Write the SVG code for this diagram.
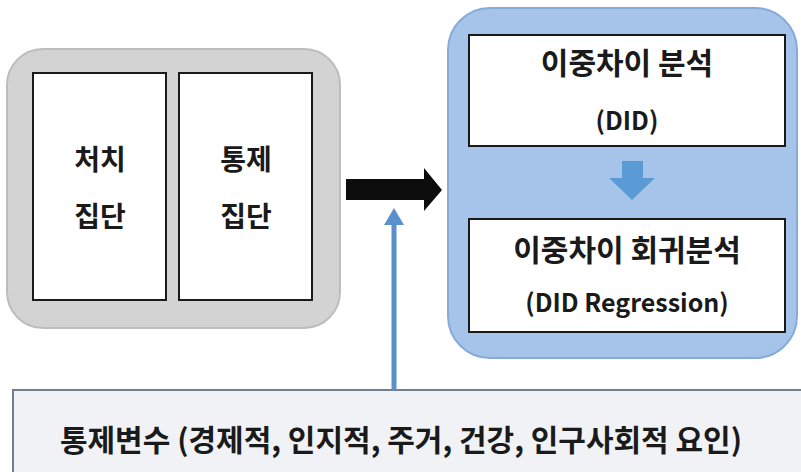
<svg xmlns="http://www.w3.org/2000/svg" width="801" height="472" viewBox="0 0 801 472">
<style>
.t{font-family:"Noto Sans CJK KR","Noto Sans",sans-serif;font-weight:bold;fill:#1a1a1a;text-anchor:middle}
.box{fill:#ffffff;stroke:#1a1a1a;stroke-width:2}
</style>
<rect width="801" height="472" fill="#ffffff"/>
<g id="group-container">
<rect x="7" y="49" width="333" height="279" rx="36" fill="#d3d3d3" stroke="#bdbdbd" stroke-width="2"/>
</g>
<g id="treatment">
<rect class="box" x="33" y="73" width="133" height="227"/>
<text class="t" x="100" y="170" font-size="28">처치</text>
<text class="t" x="100" y="227" font-size="28">집단</text>
</g>
<g id="control">
<rect class="box" x="179" y="73" width="133" height="227"/>
<text class="t" x="246" y="170" font-size="28">통제</text>
<text class="t" x="246" y="227" font-size="28">집단</text>
</g>
<g id="analysis-container">
<rect x="448" y="8" width="349" height="350" rx="42" fill="#a6c4e9" stroke="#86abd9" stroke-width="2"/>
</g>
<g id="did">
<rect class="box" x="469" y="35" width="316" height="111"/>
<text class="t" x="627" y="74" font-size="30">이중차이 분석</text>
<text class="t" x="627" y="130" font-size="25">(DID)</text>
</g>
<g id="did-regression">
<rect class="box" x="469" y="219" width="316" height="113"/>
<text class="t" x="627" y="261" font-size="30">이중차이 회귀분석</text>
<text class="t" x="627" y="312" font-size="25">(DID Regression)</text>
</g>
<g id="controls">
<rect x="13" y="390" width="800" height="90" fill="#f1f2f5" stroke="#6f7f8f" stroke-width="2"/>
<text class="t" x="401" y="451" font-size="30">통제변수 (경제적, 인지적, 주거, 건강, 인구사회적 요인)</text>
</g>
<g id="connectors">
<polygon points="346,179 424,179 424,168 442,190 424,211 424,200 346,200" fill="#0d0d0d"/>
<polygon points="622,161 643,161 643,178 655,178 632,200 609,178 622,178" fill="#5b9bd5"/>
<line x1="394" y1="222" x2="394" y2="390" stroke="#5b90cc" stroke-width="5"/>
<polygon points="394,208 404,225 384,225" fill="#5b90cc"/>
</g>
</svg>
